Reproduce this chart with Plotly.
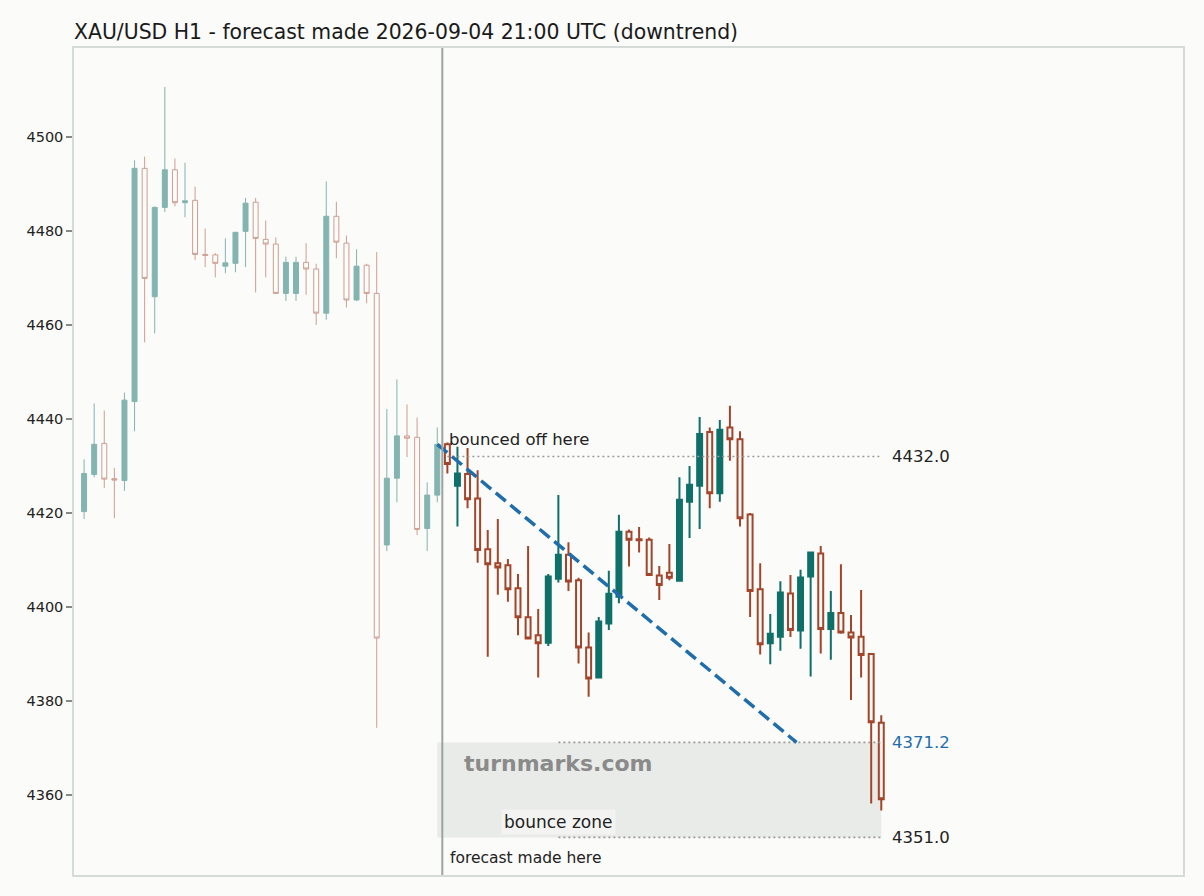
import plotly.graph_objects as go

# Candle data (hourly bars, index 0 = oldest)
hist_open = [4420.3, 4428.2, 4434.8, 4427.3, 4426.9, 4443.7, 4493.3, 4466.0, 4485.0, 4493.0,
             4486.0, 4486.5, 4475.0, 4474.9, 4472.5, 4473.1, 4479.9, 4486.1, 4478.2, 4477.2,
             4466.7, 4466.7, 4473.3, 4471.9, 4462.5, 4483.1, 4477.4, 4465.3, 4472.7, 4466.7,
             4413.2, 4427.4, 4436.4, 4436.1, 4416.7, 4423.8]
hist_high = [4431.4, 4443.3, 4441.8, 4429.6, 4445.6, 4495.0, 4495.8, 4485.2, 4510.6, 4495.4,
             4494.5, 4489.4, 4480.5, 4475.3, 4478.4, 4479.8, 4487.0, 4487.0, 4482.2, 4478.6,
             4474.5, 4474.5, 4477.4, 4473.0, 4490.5, 4486.2, 4479.0, 4476.1, 4473.0, 4475.5,
             4442.1, 4448.4, 4443.1, 4440.3, 4426.5, 4438.2]
hist_low = [4418.7, 4427.6, 4425.3, 4418.9, 4424.7, 4437.4, 4456.3, 4458.2, 4484.0, 4485.2,
            4482.9, 4473.8, 4472.3, 4470.1, 4471.0, 4471.2, 4472.3, 4466.9, 4470.1, 4466.6,
            4465.1, 4465.1, 4466.4, 4460.0, 4461.1, 4474.2, 4463.7, 4465.1, 4464.6, 4374.3,
            4411.9, 4422.3, 4431.9, 4415.3, 4411.9, 4422.3]
hist_close = [4428.4, 4434.6, 4427.2, 4427.0, 4444.0, 4493.3, 4469.9, 4485.0, 4493.0, 4486.0,
              4486.4, 4475.0, 4474.8, 4473.1, 4473.2, 4479.7, 4485.9, 4478.4, 4477.2, 4466.7,
              4473.3, 4473.3, 4471.9, 4462.5, 4483.1, 4477.6, 4465.3, 4472.5, 4466.7, 4393.4,
              4427.4, 4436.4, 4435.9, 4416.5, 4423.8, 4434.6]

act_open = [4434.6, 4425.8, 4428.3, 4423.1, 4412.3, 4409.3, 4408.9, 4404.0, 4397.8, 4394.0,
            4392.4, 4406.0, 4411.1, 4405.7, 4391.4, 4385.0, 4396.5, 4402.2, 4416.0, 4414.4,
            4414.3, 4406.7, 4407.3, 4405.6, 4422.4, 4425.8, 4437.2, 4424.2, 4438.2, 4435.7,
            4419.7, 4403.8, 4392.3, 4393.7, 4402.9, 4395.0, 4406.5, 4411.4, 4395.3, 4398.7,
            4394.6, 4393.7, 4390.0, 4375.4]
act_high = [4435.0, 4434.1, 4433.8, 4429.1, 4416.4, 4418.7, 4410.2, 4407.0, 4413.0, 4399.6,
            4407.0, 4423.8, 4413.8, 4406.2, 4394.6, 4397.9, 4407.7, 4419.6, 4416.5, 4417.0,
            4414.8, 4408.7, 4413.4, 4427.6, 4430.0, 4440.4, 4438.2, 4439.8, 4442.8, 4437.4,
            4420.0, 4409.3, 4398.5, 4405.5, 4406.8, 4407.9, 4411.6, 4413.0, 4403.4, 4409.1,
            4398.3, 4403.6, 4390.2, 4377.0]
act_low = [4428.4, 4417.1, 4421.0, 4409.4, 4389.4, 4402.6, 4401.1, 4394.0, 4393.1, 4385.0,
           4391.7, 4405.2, 4403.4, 4388.0, 4380.9, 4385.0, 4395.1, 4400.8, 4408.6, 4411.6,
           4406.8, 4401.5, 4405.7, 4405.6, 4414.7, 4416.6, 4421.0, 4422.4, 4431.1, 4417.1,
           4397.9, 4389.9, 4387.8, 4390.7, 4393.6, 4391.1, 4385.2, 4390.1, 4388.8, 4394.3,
           4380.2, 4385.0, 4358.2, 4356.7]
act_close = [4430.4, 4428.4, 4422.9, 4412.1, 4409.1, 4408.4, 4403.8, 4397.8, 4393.3, 4392.3,
             4406.5, 4411.1, 4405.4, 4391.4, 4384.8, 4396.9, 4402.8, 4416.0, 4414.3, 4414.2,
             4406.8, 4404.7, 4406.2, 4422.8, 4426.0, 4436.8, 4424.2, 4437.7, 4435.7, 4418.9,
             4403.4, 4392.1, 4394.3, 4403.1, 4395.1, 4406.3, 4411.6, 4395.3, 4398.7, 4394.6,
             4393.5, 4389.8, 4375.5, 4359.1]

# forecast levels
bounce_level = 4432.0
zone_high = 4371.2
zone_low = 4351.0
trend_start = (35, 4434.6)
trend_end = (70.6, 4371.2)

n_hist = len(hist_open)
n_all = n_hist + len(act_open)
hist_x = list(range(n_hist))
act_x = list(range(n_hist, n_all))
last_x = n_all - 1
forecast_x = n_hist - 0.5
zone_mid_x = n_hist + 11

UP = "#0e7068"
DOWN = "#a3452b"
BG = "#fbfbf9"
FONT = "DejaVu Sans"

fig = go.Figure()

fig.add_trace(go.Candlestick(
    x=hist_x, open=hist_open, high=hist_high, low=hist_low, close=hist_close,
    increasing=dict(line=dict(color=UP, width=1), fillcolor=UP),
    decreasing=dict(line=dict(color=DOWN, width=1), fillcolor="rgba(0,0,0,0)"),
    whiskerwidth=0, opacity=0.5, showlegend=False, name="history",
))
fig.add_trace(go.Candlestick(
    x=act_x, open=act_open, high=act_high, low=act_low, close=act_close,
    increasing=dict(line=dict(color=UP, width=2), fillcolor=UP),
    decreasing=dict(line=dict(color=DOWN, width=2), fillcolor="rgba(0,0,0,0)"),
    whiskerwidth=0, showlegend=False, name="actual",
))

# dotted level lines
dot_style = dict(color="#9a9a9a", width=1.6, dash="2px,3px")
fig.add_trace(go.Scatter(x=[n_hist, last_x + 0.1], y=[bounce_level, bounce_level],
                         mode="lines", line=dot_style, showlegend=False, hoverinfo="skip"))
for lvl in [zone_high, zone_low]:
    fig.add_trace(go.Scatter(x=[zone_mid_x, last_x + 0.1], y=[lvl, lvl],
                             mode="lines", line=dot_style, showlegend=False, hoverinfo="skip"))

# forecast trend line
fig.add_trace(go.Scatter(x=[trend_start[0], trend_end[0]], y=[trend_start[1], trend_end[1]],
                         mode="lines", line=dict(color="#1f6eab", width=3.5, dash="13px,6px"),
                         showlegend=False, hoverinfo="skip"))

# bounce zone and forecast marker
fig.add_shape(type="rect", x0=n_hist - 1, x1=last_x, y0=zone_low, y1=zone_high,
              fillcolor="#e9ebe8", line=dict(width=0), layer="below")
fig.add_shape(type="line", x0=forecast_x, x1=forecast_x, y0=0, y1=1, yref="paper",
              line=dict(color="#9da39f", width=2))

lbl_x = last_x + 0.9
fig.add_annotation(x=lbl_x, y=bounce_level, text=f"{bounce_level:.1f}", showarrow=False,
                   xanchor="left", yanchor="middle", font=dict(size=16.5, color="#222222"))
fig.add_annotation(x=lbl_x, y=zone_high, text=f"{zone_high:.1f}", showarrow=False,
                   xanchor="left", yanchor="middle", font=dict(size=16.5, color="#1f6eab"))
fig.add_annotation(x=lbl_x, y=zone_low, text=f"{zone_low:.1f}", showarrow=False,
                   xanchor="left", yanchor="middle", font=dict(size=16.5, color="#222222"))
fig.add_annotation(x=n_hist, y=4435.6, text="bounced off here", showarrow=False,
                   xanchor="left", yanchor="middle", font=dict(size=16.5, color="#222222"))
fig.add_annotation(x=zone_mid_x, y=4366.7, text="turnmarks.com", showarrow=False,
                   xanchor="center", yanchor="middle",
                   font=dict(size=22, color="#8a8a8a", weight="bold"))
fig.add_annotation(x=zone_mid_x, y=4354.3, text="bounce zone", showarrow=False,
                   xanchor="center", yanchor="middle", bgcolor="#f3f4f2", borderpad=2,
                   font=dict(size=17, color="#222222"))
fig.add_annotation(x=forecast_x + 0.6, y=4346.7, text="forecast made here", showarrow=False,
                   xanchor="left", yanchor="middle", font=dict(size=15.5, color="#222222"))

fig.update_layout(
    width=1204, height=896,
    margin=dict(l=74, r=21, t=48, b=21),
    paper_bgcolor=BG, plot_bgcolor=BG,
    font=dict(family=FONT, color="#222222"),
    title=dict(text="XAU/USD H1 - forecast made 2026-09-04 21:00 UTC (downtrend)",
               x=74 / 1204, xanchor="left", y=1 - 32 / 896, yanchor="middle",
               font=dict(size=20.4, color="#1a1a1a")),
    showlegend=False,
)
fig.update_xaxes(range=[-1, 108.9], rangeslider=dict(visible=False), showgrid=False,
                 zeroline=False, showticklabels=False, ticks="",
                 showline=True, mirror=True, linecolor="#d5dbd7", linewidth=1.5)
fig.update_yaxes(range=[4343.0, 4518.9], tickvals=[4360, 4380, 4400, 4420, 4440, 4460, 4480, 4500],
                 showgrid=False, zeroline=False, ticks="outside", ticklen=6, tickwidth=1.5,
                 tickcolor="#888888", tickfont=dict(size=14.5, color="#222222"),
                 showline=True, mirror=True, linecolor="#d5dbd7", linewidth=1.5)

# drop the default page margin so the figure sits at the window origin
fig.write_html("out.html", config={"displayModeBar": False},
               post_script="document.body.style.margin='0';document.body.style.background='%s';" % BG)
